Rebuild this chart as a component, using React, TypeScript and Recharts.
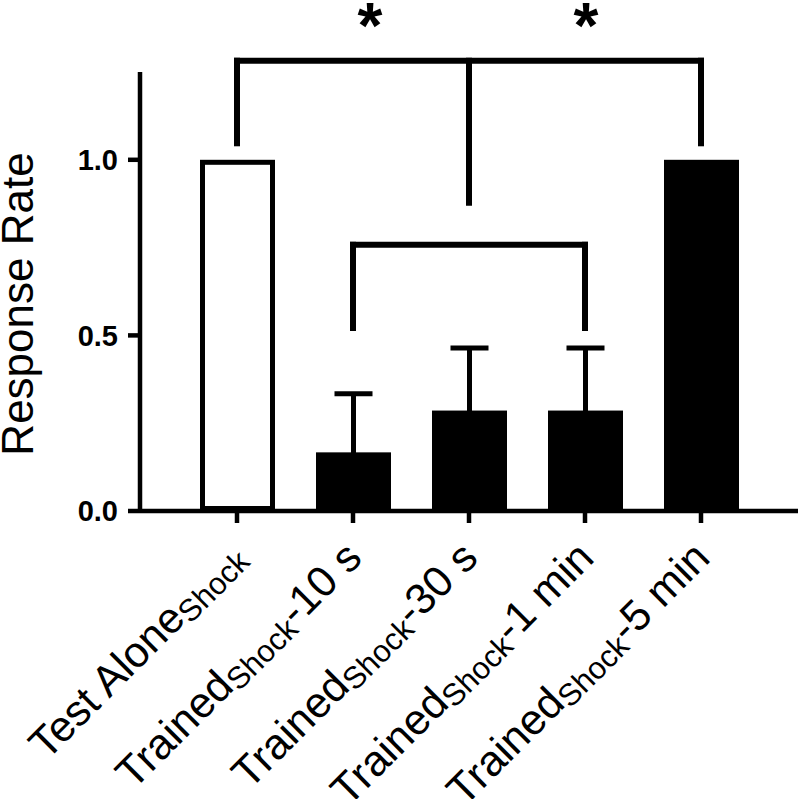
import React from "react";
import { BarChart, Bar, XAxis, YAxis, ErrorBar, ReferenceLine } from "recharts";

const FONT = "'Liberation Sans', Arial, Helvetica, sans-serif";

// group labels: main text, subscript, suffix
const groupNames = ["Test Alone", "Trained", "Trained", "Trained", "Trained"];
const groupSub = ["Shock", "Shock", "Shock", "Shock", "Shock"];
const groupDelay = ["", "-10 s", "-30 s", "-1 min", "-5 min"];

// mean response rate and upward SEM
const responseRate = [1.0, 0.167, 0.286, 0.286, 1.0];
const responseSem = [null, 0.167, 0.178, 0.178, null];

const yTicks = [0, 0.5, 1.0];

// significance brackets (data units)
const bigBracketTop = 1.282;
const bigBracketLeg = 1.047;
const bigBracketStem = 0.878;
const smallBracketTop = 0.758;
const smallBracketLeg = 0.521;

const categories = groupNames.map((n, i) => n + groupSub[i] + groupDelay[i]);

// only the upper whisker shows; the lower end stays hidden inside the bar
const data = categories.map((c, i) => ({
  group: c,
  rate: responseRate[i],
  sem: responseSem[i] == null ? null : [0.012, responseSem[i]],
}));

const BarShape = (props: any) => {
  const { x, y, width, height, index } = props;
  if (index === 0) {
    return (
      <rect
        x={x + 2.5}
        y={y + 2.5}
        width={width - 5}
        height={height - 5}
        fill="#fff"
        stroke="#000"
        strokeWidth={5}
      />
    );
  }
  return <rect x={x} y={y} width={width} height={height} fill="#000" />;
};

const GroupTick = (props: any) => {
  const { x, y, payload } = props;
  const i = categories.indexOf(payload.value);
  return (
    <g transform={`translate(${x + 11},${y + 35}) rotate(-45)`}>
      <text textAnchor="end" fontSize={43} fontFamily={FONT} fill="#000">
        <tspan>{groupNames[i]}</tspan>
        <tspan fontSize={31} dy={5}>
          {groupSub[i]}
        </tspan>
        {groupDelay[i] ? <tspan dy={-5}>{groupDelay[i]}</tspan> : null}
      </text>
    </g>
  );
};

const YTitle = (props: any) => {
  const { viewBox } = props;
  const cx = viewBox.x + 33;
  const cy = viewBox.y + viewBox.height / 2 + 12.5;
  return (
    <text
      transform={`translate(${cx},${cy}) rotate(-90)`}
      textAnchor="middle"
      fontSize={44}
      fontFamily={FONT}
      fill="#000"
    >
      Response Rate
    </text>
  );
};

const lineStyle = { stroke: "#000", strokeWidth: 4.5 };

const Bracket = (a: string, ya: number, b: string, yb: number) => (
  <ReferenceLine
    key={`${a}-${ya}-${b}-${yb}`}
    ifOverflow="visible"
    stroke="#000"
    strokeWidth={6}
    strokeLinecap="square"
    segment={[{ x: a, y: ya }, { x: b, y: yb }]}
  />
);

export default function App() {
  return (
    <div style={{ position: "absolute", left: 0, top: 0, width: 800, height: 799, background: "#fff" }}>
      <BarChart
        width={800}
        height={799}
        data={data}
        margin={{ top: 72, right: 2, bottom: 0, left: 0 }}
      >
        <XAxis
          dataKey="group"
          padding={{ left: 39, right: 39 }}
          height={288}
          tickSize={12}
          interval={0}
          axisLine={lineStyle}
          tickLine={lineStyle}
          tick={<GroupTick />}
        />
        <YAxis
          domain={[0, 1.25]}
          ticks={yTicks}
          allowDataOverflow
          width={140}
          tickSize={12}
          tickMargin={10}
          tickFormatter={(v: number) => v.toFixed(1)}
          axisLine={lineStyle}
          tickLine={lineStyle}
          tick={{ fill: "#000", fontSize: 29, fontWeight: "bold", fontFamily: FONT }}
          label={<YTitle />}
        />
        <Bar dataKey="rate" barSize={75} shape={<BarShape />} isAnimationActive={false}>
          <ErrorBar dataKey="sem" width={19} stroke="#000" strokeWidth={5} isAnimationActive={false} />
        </Bar>
        {Bracket(categories[0], bigBracketTop, categories[4], bigBracketTop)}
        {Bracket(categories[0], bigBracketTop, categories[0], bigBracketLeg)}
        {Bracket(categories[4], bigBracketTop, categories[4], bigBracketLeg)}
        {Bracket(categories[2], bigBracketTop, categories[2], bigBracketStem)}
        {Bracket(categories[1], smallBracketTop, categories[3], smallBracketTop)}
        {Bracket(categories[1], smallBracketTop, categories[1], smallBracketLeg)}
        {Bracket(categories[3], smallBracketTop, categories[3], smallBracketLeg)}
      </BarChart>
      <svg
        width={800}
        height={60}
        style={{ position: "absolute", left: 0, top: 0, pointerEvents: "none" }}
      >
        <text x={370} y={48} textAnchor="middle" fontSize={64} fontWeight="bold" fontFamily={FONT} fill="#000">
          *
        </text>
        <text x={586} y={48} textAnchor="middle" fontSize={64} fontWeight="bold" fontFamily={FONT} fill="#000">
          *
        </text>
      </svg>
    </div>
  );
}
